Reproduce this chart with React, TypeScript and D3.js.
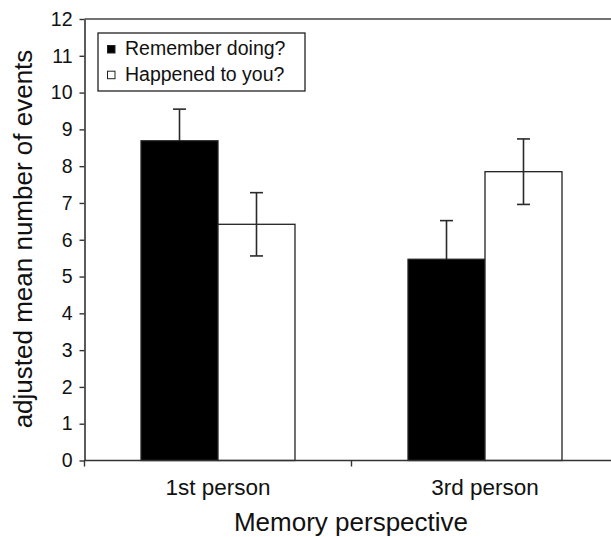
import React, { useRef, useEffect } from 'react';
import * as d3 from 'd3';

const categories = ['1st person', '3rd person'];
const seriesNames = ['Remember doing?', 'Happened to you?'];
const rememberMeans = [8.69, 5.47];
const rememberErr = [0.86, 1.05];
const happenedMeans = [6.42, 7.85];
const happenedErr = [0.86, 0.89];
const yTicks = [0, 1, 2, 3, 4, 5, 6, 7, 8, 9, 10, 11, 12];

const FONT = '"Liberation Sans", Arial, Helvetica, sans-serif';

const App = () => {
  const svgRef = useRef<SVGSVGElement>(null);
  const width = 611;
  const height = 537;

  useEffect(() => {
    const svg = d3.select(svgRef.current);
    svg.selectAll('*').remove();

    const left = 84.5, right = 618.5, top = 19, bottom = 460.5;

    const x0 = d3.scaleBand().domain(categories).range([left, right]).padding(0);
    const x1 = d3.scaleBand().domain(seriesNames).range([0, x0.bandwidth()]).paddingInner(0).paddingOuter(0.734);
    const y = d3.scaleLinear().domain([0, 12]).range([bottom, top]);

    const rows = categories.map((c, i) => ({
      cat: c,
      vals: [
        { name: seriesNames[0], v: rememberMeans[i], e: rememberErr[i], fill: '#000' },
        { name: seriesNames[1], v: happenedMeans[i], e: happenedErr[i], fill: '#fff' },
      ],
    }));

    // frame top line
    svg.append('line')
      .attr('x1', left).attr('x2', right)
      .attr('y1', top).attr('y2', top)
      .attr('stroke', '#444').attr('stroke-width', 1.6);

    const groups = svg.selectAll('g.grp')
      .data(rows)
      .enter()
      .append('g')
      .attr('class', 'grp')
      .attr('transform', d => `translate(${x0(d.cat)},0)`);

    const cx = d => x1(d.name)! + x1.bandwidth() / 2;
    const drawErr = (sel) => {
      sel.attr('stroke', '#2a2a2a').attr('stroke-width', 1.6);
      sel.append('line')
        .attr('x1', cx).attr('x2', cx)
        .attr('y1', d => y(d.v - d.e)).attr('y2', d => y(d.v + d.e));
      sel.append('line')
        .attr('x1', d => cx(d) - 6.5).attr('x2', d => cx(d) + 6.5)
        .attr('y1', d => y(d.v + d.e)).attr('y2', d => y(d.v + d.e));
      sel.append('line')
        .attr('x1', d => cx(d) - 6.5).attr('x2', d => cx(d) + 6.5)
        .attr('y1', d => y(d.v - d.e)).attr('y2', d => y(d.v - d.e));
    };

    // error bars of the filled series sit behind their bars
    groups.selectAll('g.errBack')
      .data(d => d.vals.filter(v => v.fill === '#000'))
      .enter()
      .append('g')
      .attr('class', 'errBack')
      .call(drawErr);

    groups.selectAll('rect')
      .data(d => d.vals)
      .enter()
      .append('rect')
      .attr('x', d => x1(d.name)!)
      .attr('y', d => y(d.v))
      .attr('width', x1.bandwidth())
      .attr('height', d => y(0) - y(d.v))
      .attr('fill', d => d.fill)
      .attr('stroke', '#222')
      .attr('stroke-width', 1.3);

    groups.selectAll('g.errFront')
      .data(d => d.vals.filter(v => v.fill !== '#000'))
      .enter()
      .append('g')
      .attr('class', 'errFront')
      .call(drawErr);

    // y axis
    const yAxis = svg.append('g')
      .attr('transform', `translate(${left},0)`)
      .call(d3.axisLeft(y).tickValues(yTicks).tickSize(5).tickSizeOuter(0).tickPadding(7).tickFormat(d3.format('d')));
    yAxis.select('.domain').attr('stroke', '#333').attr('stroke-width', 1.6);
    yAxis.selectAll('.tick line').attr('stroke', '#333').attr('stroke-width', 1.4);
    yAxis.selectAll('.tick text')
      .attr('font-family', FONT).attr('font-size', 19.5).attr('fill', '#111');

    // x axis
    const xAxis = svg.append('g')
      .attr('transform', `translate(0,${bottom})`)
      .call(d3.axisBottom(x0).tickSize(0).tickPadding(0));
    xAxis.select('.domain').remove();
    xAxis.append('line')
      .attr('x1', left).attr('x2', right)
      .attr('stroke', '#333').attr('stroke-width', 1.6);
    xAxis.selectAll('.tick line').remove();
    xAxis.selectAll('.tick text')
      .attr('font-family', FONT).attr('font-size', 22.5).attr('fill', '#111')
      .attr('dy', null).attr('y', 34);
    xAxis.selectAll('line.sep')
      .data(categories)
      .enter()
      .append('line')
      .attr('class', 'sep')
      .attr('x1', d => x0(d)!).attr('x2', d => x0(d)!)
      .attr('y1', 0).attr('y2', 6)
      .attr('stroke', '#333').attr('stroke-width', 1.4);
    xAxis.append('line')
      .attr('x1', right).attr('x2', right)
      .attr('y1', 0).attr('y2', 6)
      .attr('stroke', '#333').attr('stroke-width', 1.4);

    // axis titles
    svg.append('text')
      .attr('transform', `translate(32,239) rotate(-90)`)
      .attr('text-anchor', 'middle')
      .attr('font-family', FONT).attr('font-size', 26).attr('fill', '#111')
      .text('adjusted mean number of events');
    svg.append('text')
      .attr('x', (left + x0(categories[1])! + x0.bandwidth()) / 2 - 0.5)
      .attr('y', 531)
      .attr('text-anchor', 'middle')
      .attr('font-family', FONT).attr('font-size', 26).attr('fill', '#111')
      .text('Memory perspective');

    // legend
    const lg = svg.append('g');
    lg.append('rect')
      .attr('x', 98).attr('y', 33).attr('width', 207).attr('height', 58)
      .attr('fill', '#fff').attr('stroke', '#222').attr('stroke-width', 1.3);
    const fills = ['#000', '#fff'];
    const items = lg.selectAll('g.item')
      .data(seriesNames)
      .enter()
      .append('g')
      .attr('class', 'item')
      .attr('transform', (d, i) => `translate(0,${55 + i * 25.7})`);
    items.append('rect')
      .attr('x', 107.5).attr('y', -9.5).attr('width', 7.5).attr('height', 7.5)
      .attr('fill', (d, i) => fills[i]).attr('stroke', '#222').attr('stroke-width', 1);
    items.append('text')
      .attr('x', 125).attr('y', 0)
      .attr('font-family', FONT).attr('font-size', 19.5).attr('fill', '#111')
      .text(d => d);
  }, []);

  return (
    <svg
      ref={svgRef}
      width={width}
      height={height}
      style={{ position: 'absolute', left: 0, top: 0, background: '#fff' }}
    ></svg>
  );
};

export default App;
